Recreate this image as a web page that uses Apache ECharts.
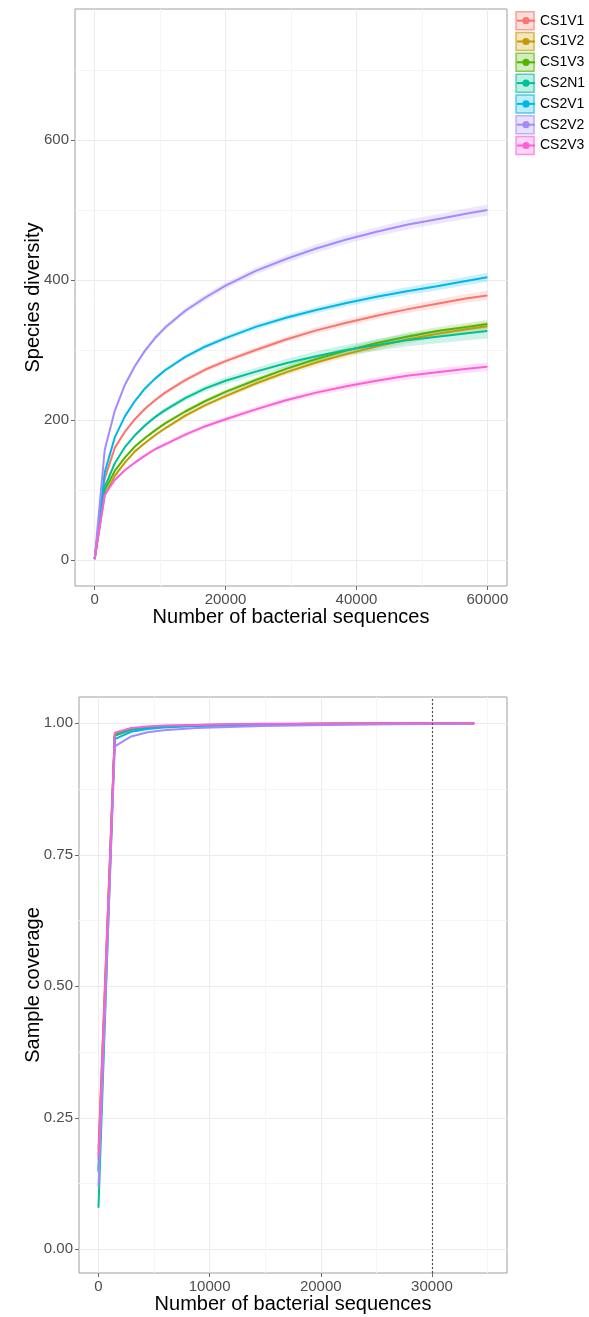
<!DOCTYPE html>
<html><head><meta charset="utf-8">
<script src="https://cdn.jsdelivr.net/npm/echarts@6/dist/echarts.min.js"></script>
<style>html,body{margin:0;padding:0;background:#fff}#c{width:589px;height:1317px}</style>
</head><body><div id="c"></div>
<script>
// ---------- data ----------
const names  = ['CS1V1','CS1V2','CS1V3','CS2N1','CS2V1','CS2V2','CS2V3'];
const colors = ['#F8766D','#C49A00','#53B400','#00C094','#00B6EB','#A58AFF','#FB61D7'];

// Top panel: species diversity vs number of sequences
const seqTop = [1,1538,3077,4615,6154,7692,9231,10769,13846,16923,20000,24615,29231,33846,38462,43077,47692,52308,56923,60000];
const divCS1V1 = [1,116,160,183,201,216,228,239,257,272,284,300,315,328,339,349,358,366,374,378];
const divCS1V2 = [1,92,120,139,155,167,178,188,206,221,234,252,268,282,294,305,315,323,330,334];
const divCS1V3 = [1,99,127,146,162,174,185,195,212,227,240,257,273,287,299,310,319,327,333,337];
const divCS2N1 = [1,104,138,161,178,192,204,214,231,245,256,269,281,291,300,307,314,319,324,327];
const divCS2V1 = [1,125,175,205,227,245,259,271,290,305,317,333,346,357,367,376,384,391,399,404];
const divCS2V2 = [1,157,213,250,277,299,317,332,356,375,392,413,430,445,458,469,479,487,495,500];
const divCS2V3 = [1,93,114,128,139,149,158,165,179,191,201,215,228,239,248,256,263,268,273,276];
// half-width of the confidence ribbon around each curve
const ciCS1V1 = [0,1,1.5,2,2,2.5,2.5,3,3,3.5,3.5,4,4,4.5,5,5,5.5,6,6,6.5];
const ciCS1V2 = [0,1,1.5,1.5,2,2,2.5,2.5,3,3,3.5,3.5,4,4.5,4.5,5,5.5,5.5,6,6];
const ciCS1V3 = [0,1,1.5,1.5,2,2,2.5,2.5,3,3,3.5,3.5,4,4.5,4.5,5,5.5,5.5,6,6];
const ciCS2N1 = [0,1,1.5,2,2.5,3,3,3.5,4,4.5,5,5.5,6,7,7.5,8,9,9.5,10,10.5];
const ciCS2V1 = [0,1,1.5,2,2,2.5,2.5,3,3,3.5,3.5,4,4,4.5,5,5,5.5,6,6,6.5];
const ciCS2V2 = [0,1.5,2,2.5,3,3,3.5,3.5,4,4.5,4.5,5,5.5,6,6,6.5,7,7,7.5,8];
const ciCS2V3 = [0,1,1.5,2,2,2.5,2.5,3,3,3.5,3.5,4,4,4.5,5,5,5.5,6,6,6.5];

// Bottom panel: sample coverage vs number of sequences
const seqBot = [1,1470,2940,4410,5880,8820,11760,14700,20580,26460,33800];
const covCS1V1 = [0.170,0.977,0.988,0.992,0.994,0.996,0.997,0.998,0.999,0.9995,1.000];
const covCS1V2 = [0.190,0.979,0.989,0.993,0.995,0.997,0.998,0.998,0.999,1.000,1.000];
const covCS1V3 = [0.150,0.976,0.988,0.992,0.994,0.996,0.997,0.998,0.999,0.9995,1.000];
const covCS2N1 = [0.079,0.978,0.988,0.992,0.994,0.996,0.997,0.998,0.999,0.9995,1.000];
const covCS2V1 = [0.147,0.970,0.984,0.989,0.992,0.995,0.996,0.997,0.998,0.999,0.9995];
const covCS2V2 = [0.119,0.956,0.975,0.983,0.987,0.991,0.993,0.995,0.997,0.998,0.999];
const covCS2V3 = [0.176,0.982,0.991,0.994,0.996,0.997,0.998,0.999,0.9995,1.000,1.000];

const xTicksTop = [0,20000,40000,60000];
const xMinorTop = [10000,30000,50000];
const yTicksTop = [0,200,400,600];
const yMinorTop = [100,300,500,700];
const xTicksBot = [0,10000,20000,30000];
const xMinorBot = [5000,15000,25000,35000];
const yTicksBot = [0,0.25,0.5,0.75,1];
const yMinorBot = [0.125,0.375,0.625,0.875];
const cutoff = 30000;

const divData = [divCS1V1,divCS1V2,divCS1V3,divCS2N1,divCS2V1,divCS2V2,divCS2V3];
const ciData  = [ciCS1V1,ciCS1V2,ciCS1V3,ciCS2N1,ciCS2V1,ciCS2V2,ciCS2V3];
const covData = [covCS1V1,covCS1V2,covCS1V3,covCS2N1,covCS2V1,covCS2V2,covCS2V3];

// ---------- chart ----------
const FF = '"Liberation Sans", Arial, Helvetica, sans-serif';
function rgba(hex, a){const n=parseInt(hex.slice(1),16);return `rgba(${n>>16&255},${n>>8&255},${n&255},${a})`;}

function axisPair(dim, gi, min, max, ticks, minor, name, nameGap, fmt){
  const major = {
    gridIndex: gi, type: 'value', min: min, max: max,
    position: dim === 'x' ? 'bottom' : 'left',
    axisLine: {show: false, onZero: false},
    axisTick: {show: true, length: 4, customValues: ticks, lineStyle: {color: '#6b6b6b', width: 1}},
    axisLabel: {customValues: ticks, margin: 6, color: '#4d4d4d', fontSize: 15, fontFamily: FF, formatter: fmt},
    splitLine: {show: true, lineStyle: {color: '#EBEBEB', width: 1}},
    name: name, nameLocation: 'middle', nameGap: nameGap, nameMoveOverlap: false,
    nameTextStyle: {fontSize: 20, color: '#000', fontFamily: FF}
  };
  const mn = {
    gridIndex: gi, type: 'value', min: min, max: max,
    position: dim === 'x' ? 'top' : 'right',
    axisLine: {show: false, onZero: false},
    axisTick: {show: false, customValues: minor},
    axisLabel: {show: false, customValues: minor},
    splitLine: {show: true, lineStyle: {color: '#F5F5F5', width: 1}}
  };
  return [major, mn];
}

const xAxes = [
  ...axisPair('x', 0, -3000, 63000, xTicksTop, xMinorTop, 'Number of bacterial sequences', 21, v => String(v)),
  ...axisPair('x', 1, -1750, 36750, xTicksBot, xMinorBot, 'Number of bacterial sequences', 21, v => String(v))
];
const yAxes = [
  ...axisPair('y', 0, -37.5, 787.5, yTicksTop, yMinorTop, 'Species diversity', 32, v => String(v)),
  ...axisPair('y', 1, -0.045, 1.05, yTicksBot, yMinorBot, 'Sample coverage', 36, v => v.toFixed(2))
];

const series = [];
// ribbons (top panel)
names.forEach((n, k) => {
  const rows = seqTop.map((x, i) => [x, divData[k][i] - ciData[k][i], divData[k][i] + ciData[k][i]]);
  series.push({
    type: 'custom', name: 'ci-' + n, xAxisIndex: 0, yAxisIndex: 0, silent: true, z: 1,
    encode: {x: 0, y: [1, 2]},
    data: rows,
    renderItem: (params, api) => {
      if (params.dataIndex !== 0) return null;
      const up = rows.map(r => api.coord([r[0], r[2]]));
      const lo = rows.map(r => api.coord([r[0], r[1]])).reverse();
      return {type: 'polygon', shape: {points: up.concat(lo)}, style: {fill: rgba(colors[k], 0.2)}};
    }
  });
});
// curves (top panel)
names.forEach((n, k) => {
  series.push({
    type: 'line', name: n, xAxisIndex: 0, yAxisIndex: 0, z: 3,
    data: seqTop.map((x, i) => [x, divData[k][i]]),
    symbol: 'circle', showSymbol: false, silent: true,
    lineStyle: {width: 2, color: colors[k]}, itemStyle: {color: colors[k]}
  });
});
// curves (bottom panel)
names.forEach((n, k) => {
  const s = {
    type: 'line', name: 'cov-' + n, xAxisIndex: 2, yAxisIndex: 2, z: 3,
    data: seqBot.map((x, i) => [x, covData[k][i]]),
    symbol: 'none', silent: true,
    lineStyle: {width: 2, color: colors[k]}, itemStyle: {color: colors[k]}
  };
  if (k === 0) {
    s.markLine = {silent: true, symbol: 'none', label: {show: false},
      lineStyle: {type: [2, 2], color: '#555', width: 1.2},
      data: [{xAxis: cutoff}]};
  }
  series.push(s);
});

const legendBoxes = names.map((n, k) => ({
  name: n,
  itemStyle: {color: rgba(colors[k], 0.25), borderColor: rgba(colors[k], 0.65), borderWidth: 1.5}
}));

const option = {
  animation: false,
  backgroundColor: '#fff',
  grid: [
    {left: 75, top: 9, width: 432, height: 577, show: true, borderColor: '#9f9f9f', borderWidth: 1, backgroundColor: 'transparent'},
    {left: 79, top: 697, width: 428, height: 576, show: true, borderColor: '#9f9f9f', borderWidth: 1, backgroundColor: 'transparent'}
  ],
  xAxis: xAxes,
  yAxis: yAxes,
  legend: [
    {orient: 'vertical', left: 515.3, top: 11, padding: 0, itemGap: 1.3, itemWidth: 18, itemHeight: 18,
     icon: 'rect', data: legendBoxes, formatter: () => '', selectedMode: false,
     textStyle: {fontSize: 14, fontFamily: FF}},
    {orient: 'vertical', left: 516, top: 11.7, padding: 0, itemGap: 2.8, itemWidth: 18, itemHeight: 9,
     data: names, selectedMode: false,
     textStyle: {fontSize: 14, lineHeight: 18, color: '#000', fontFamily: FF}}
  ],
  series: series
};

const chart = echarts.init(document.getElementById('c'), null, {renderer: 'canvas'});
chart.setOption(option);
</script>
</body></html>
